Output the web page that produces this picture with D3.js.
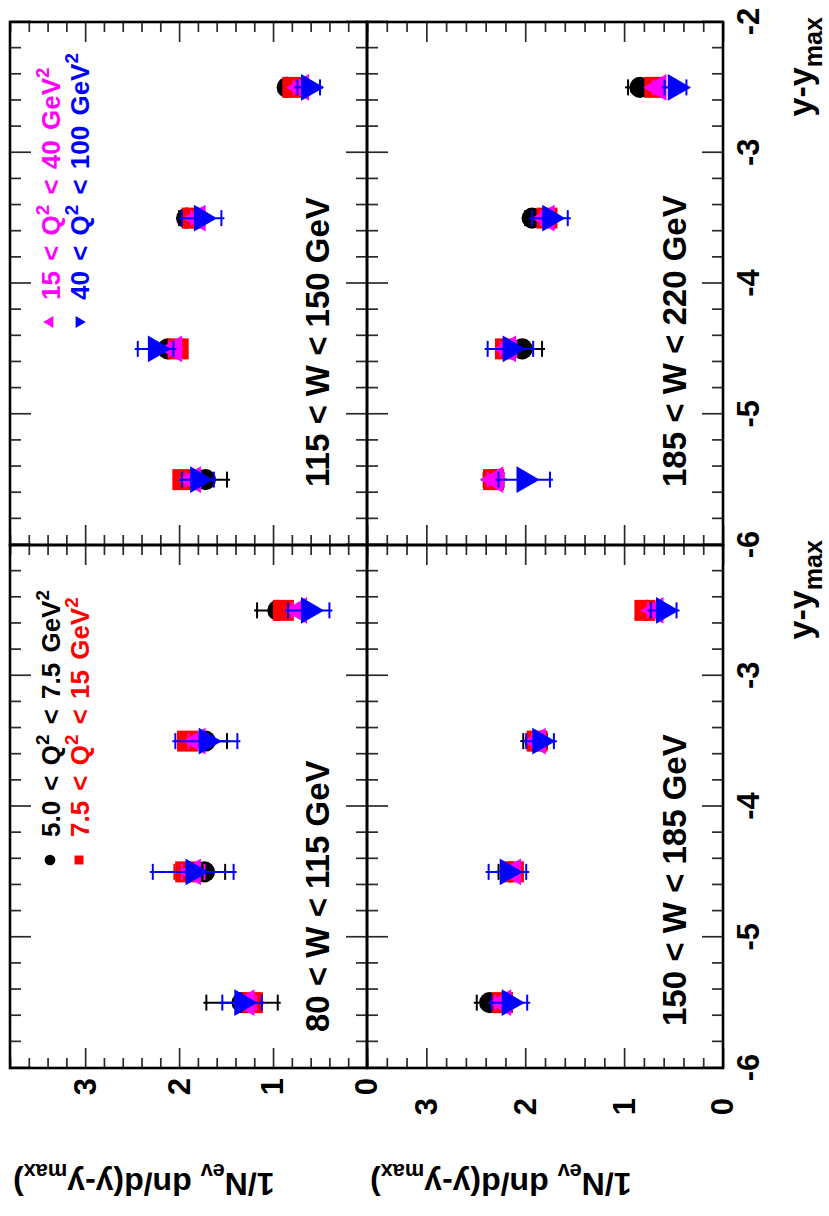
<!DOCTYPE html>
<html>
<head>
<meta charset="utf-8">
<script src="https://cdn.jsdelivr.net/npm/d3@7"></script>
<style>
  html, body { margin: 0; padding: 0; background: #fff; }
  svg { display: block; font-family: "Liberation Sans", Arial, Helvetica, sans-serif; font-weight: bold; }
</style>
</head>
<body>
<svg id="chart" width="829" height="1216"></svg>
<script>
// ---- data -------------------------------------------------------------
// bin centres in y - y_max
const xBins = [-5.5, -4.5, -3.5, -2.5];
// W ranges, one per pad
const wBins = ["80 < W < 115 GeV", "115 < W < 150 GeV", "150 < W < 185 GeV", "185 < W < 220 GeV"];
const xTickValues = [-6, -5, -4, -3, -2];
const yTickValues = [0, 1, 2, 3];
const yMaxRow = [3.8, 3.6];

// 1/N_ev dn/d(y-y_max) per pad (rows) and bin (columns), one array per Q^2 range
const valQ2a = [[1.33, 1.73, 1.72, 0.95], [1.72, 2.12, 1.92, 0.85], [2.36, 2.15, 1.90, 0.77], [2.32, 2.03, 1.93, 0.84]];
const errQ2a = [[0.38, 0.22, 0.23, 0.22], [0.23, 0.05, 0.08, 0.06], [0.13, 0.12, 0.12, 0.08], [0.10, 0.20, 0.07, 0.12]];
const valQ2b = [[1.22, 1.93, 1.91, 0.89], [1.96, 2.01, 1.86, 0.79], [2.23, 2.12, 1.88, 0.79], [2.32, 2.20, 1.78, 0.69]];
const errQ2b = [[0.10, 0.12, 0.10, 0.08], [0.08, 0.06, 0.06, 0.06], [0.08, 0.06, 0.06, 0.06], [0.08, 0.08, 0.06, 0.06]];
const valQ2c = [[1.28, 1.85, 1.80, 0.72], [1.85, 2.05, 1.80, 0.70], [2.22, 2.12, 1.87, 0.68], [2.30, 2.17, 1.78, 0.65]];
const errQ2c = [[0.10, 0.12, 0.10, 0.08], [0.08, 0.06, 0.07, 0.08], [0.08, 0.06, 0.06, 0.08], [0.08, 0.08, 0.06, 0.06]];
const valQ2d = [[1.33, 1.85, 1.71, 0.62], [1.80, 2.25, 1.76, 0.62], [2.16, 2.18, 1.85, 0.60], [2.01, 2.15, 1.75, 0.48]];
const errQ2d = [[0.21, 0.43, 0.33, 0.22], [0.17, 0.19, 0.21, 0.12], [0.18, 0.19, 0.14, 0.13], [0.26, 0.23, 0.18, 0.11]];

const series = [
  { label: [["5.0 < Q"], ["2", "sup"], [" < 7.5 GeV"], ["2", "sup"]], vals: valQ2a, errs: errQ2a, color: "#000000", shape: "circle", pad: 0, row: 0 },
  { label: [["7.5 < Q"], ["2", "sup"], [" < 15 GeV"], ["2", "sup"]], vals: valQ2b, errs: errQ2b, color: "#ff0000", shape: "square", pad: 0, row: 1 },
  { label: [["15 < Q"], ["2", "sup"], [" < 40 GeV"], ["2", "sup"]], vals: valQ2c, errs: errQ2c, color: "#ff00ff", shape: "up", pad: 1, row: 0 },
  { label: [["40 < Q"], ["2", "sup"], [" < 100 GeV"], ["2", "sup"]], vals: valQ2d, errs: errQ2d, color: "#0000ff", shape: "down", pad: 1, row: 1 }
];

// ---- layout (landscape canvas, turned onto the portrait page) ---------
const CW = 1216;
const colX = [[148, 671], [671, 1194]];
const rowY = [[10, 367], [367, 723]];
const wLabelOffset = [36, 58, 42, 58];
const yLabelPad = [10, 30];

const svg = d3.select("#chart");
const root = svg.append("g").attr("transform", `translate(0,${CW}) rotate(-90)`);

function markerPath(shape, size) {
  const type = shape === "circle" ? d3.symbolCircle : shape === "square" ? d3.symbolSquare : d3.symbolTriangle;
  return d3.symbol(type, size)();
}
const markerRot = s => (s === "down" ? 180 : 0);
const bigSize = { circle: 350, square: 441, up: 310, down: 310 };
const smallSize = { circle: 90, square: 80, up: 60, down: 60 };

// text with sub/superscripts; offsets in px of the base size
function richText(sel, parts, base, scale) {
  sel.attr("font-size", base);
  let shift = 0;
  parts.forEach(([t, kind]) => {
    const ts = sel.append("tspan").text(t);
    const target = kind === "sup" ? -0.42 * base : kind === "sub" ? 0.28 * base : 0;
    if (kind) ts.attr("font-size", base * scale);
    if (target - shift !== 0) ts.attr("dy", target - shift);
    shift = target;
  });
}

const notInt = v => Math.abs(v - Math.round(v)) > 1e-6;
const intFmt = d => String(Math.round(d));

function drawTicks(g, x, y, yMax) {
  const [X0, X1] = x.range();
  const [Yb, Yt] = y.range();
  const xMin = d3.ticks(-6, -2, 20).filter(notInt);
  const yMaj = d3.range(0, Math.floor(yMax) + 1);
  const yMin = d3.ticks(0, yMax, Math.round(yMax / 0.2)).filter(notInt);
  const put = (axisFn, scale, vals, len, tx, ty) =>
    g.append("g")
      .attr("transform", `translate(${tx},${ty})`)
      .attr("color", "#2a2a2a")
      .call(axisFn(scale).tickValues(vals).tickSize(-len).tickFormat(""))
      .call(s => s.select(".domain").remove())
      .call(s => s.selectAll("line").attr("stroke-width", 1.7));
  put(d3.axisBottom, x, xTickValues, 21, 0, Yb);
  put(d3.axisBottom, x, xMin, 11, 0, Yb);
  put(d3.axisTop, x, xTickValues, 21, 0, Yt);
  put(d3.axisTop, x, xMin, 11, 0, Yt);
  put(d3.axisLeft, y, yMaj, 20, X0, 0);
  put(d3.axisLeft, y, yMin, 10, X0, 0);
  put(d3.axisRight, y, yMaj, 20, X1, 0);
  put(d3.axisRight, y, yMin, 10, X1, 0);
}

wBins.forEach((wLabel, p) => {
  const r = Math.floor(p / 2), c = p % 2;
  const x = d3.scaleLinear().domain([-6, -2]).range(colX[c]);
  const y = d3.scaleLinear().domain([0, yMaxRow[r]]).range([rowY[r][1], rowY[r][0]]);
  const g = root.append("g");

  drawTicks(g, x, y, yMaxRow[r]);

  // points with error bars, drawn one Q^2 range after another
  series.forEach(s => {
    const sg = g.append("g");
    xBins.forEach((xb, i) => {
      const v = s.vals[p][i], e = s.errs[p][i];
      const px = x(xb), yLo = y(v - e), yHi = y(v + e);
      sg.append("line").attr("x1", px).attr("x2", px).attr("y1", yLo + 3).attr("y2", yHi - 3)
        .attr("stroke", s.color).attr("stroke-width", 2);
      [yLo, yHi].forEach(yy => sg.append("line").attr("x1", px - 8).attr("x2", px + 8)
        .attr("y1", yy).attr("y2", yy).attr("stroke", s.color).attr("stroke-width", 2));
      sg.append("path").attr("d", markerPath(s.shape, bigSize[s.shape]))
        .attr("transform", `translate(${px},${y(v)}) rotate(${markerRot(s.shape)})`)
        .attr("fill", s.color);
    });
  });

  // W range label
  g.append("text").attr("x", colX[c][0] + wLabelOffset[p]).attr("y", rowY[r][0] + 319)
    .attr("font-size", 33).attr("fill", "#000").text(wLabel);

  // frame
  g.append("rect").attr("x", colX[c][0]).attr("y", rowY[r][0])
    .attr("width", colX[c][1] - colX[c][0]).attr("height", rowY[r][1] - rowY[r][0])
    .attr("fill", "none").attr("stroke", "#000").attr("stroke-width", 2.6);

  // value labels on the left pads
  if (c === 0) {
    const ay = g.append("g").attr("transform", `translate(${colX[c][0]},0)`)
      .call(d3.axisLeft(y).tickValues(yTickValues).tickSize(0).tickPadding(yLabelPad[r]).tickFormat(intFmt))
      .call(s => s.select(".domain").remove())
      .attr("font-size", null).attr("font-family", null);
    ay.selectAll("text").attr("font-size", 31).attr("fill", "#000");
  }
  // y - y_max labels under the lower pads
  if (r === 1) {
    const vals = c === 0 ? xTickValues.slice(0, 4) : xTickValues;
    const ax = g.append("g").attr("transform", `translate(0,${rowY[r][1]})`)
      .call(d3.axisBottom(x).tickValues(vals).tickSize(0).tickPadding(14).tickFormat(intFmt))
      .call(s => s.select(".domain").remove())
      .attr("font-size", null).attr("font-family", null);
    ax.selectAll("text").attr("font-size", 31).attr("fill", "#000");

    const xt = g.append("text").attr("x", colX[c][1] + 5).attr("y", 812)
      .attr("text-anchor", "end").attr("fill", "#000");
    richText(xt, [["y-y"], ["max", "sub"]], 34, 0.74);
  }
});

// axis titles, one per row
rowY.forEach(([top]) => {
  const t = root.append("text")
    .attr("transform", `translate(43,${top + 3}) rotate(-90)`)
    .attr("text-anchor", "end").attr("fill", "#000");
  richText(t, [["1/N"], ["ev", "sub"], [" dn/d(y-y"], ["max", "sub"], [")"]], 32, 0.68);
});

// legends inside the two upper pads
const legendPos = [{ mx: 208, tx: 231 }, { mx: 223, tx: 245 }];
const legendRowY = [50, 79];
series.forEach(s => {
  const c = s.pad, lp = legendPos[c];
  const my = legendRowY[s.row];
  root.append("path").attr("d", markerPath(s.shape, smallSize[s.shape]))
    .attr("transform", `translate(${colX[c][0] + lp.mx},${my}) rotate(${markerRot(s.shape)})`)
    .attr("fill", s.color);
  const t = root.append("text").attr("x", colX[c][0] + lp.tx).attr("y", my + 10)
    .attr("fill", s.color).attr("word-spacing", 3);
  richText(t, s.label, 26, 0.72);
});
</script>
</body>
</html>
